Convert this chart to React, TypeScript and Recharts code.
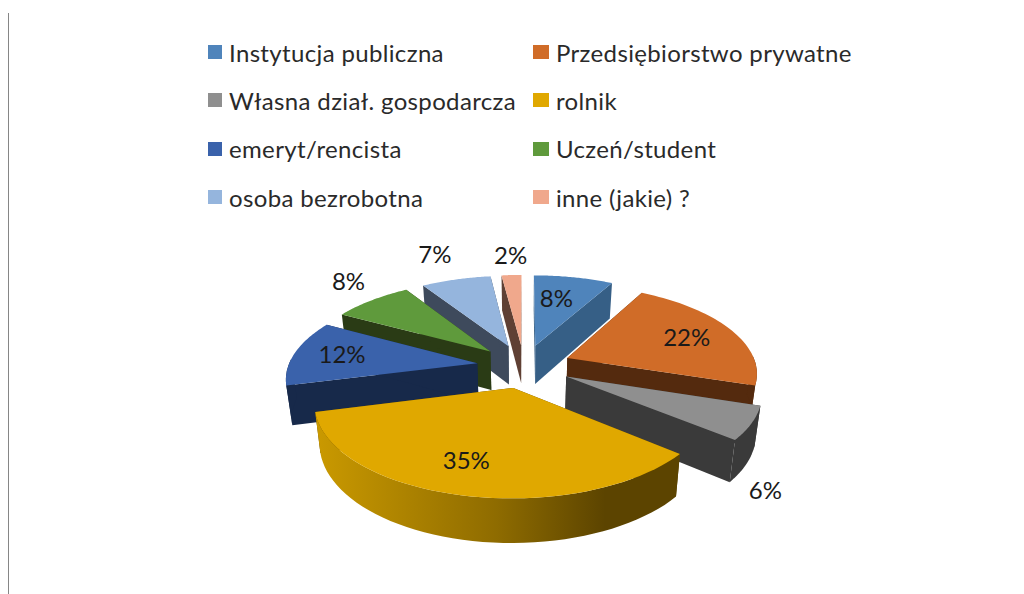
// App.tsx
import React from 'react';
import { PieChart, Pie, Legend } from 'recharts';

const categories = [
  'Instytucja publiczna',
  'Przedsiębiorstwo prywatne',
  'Własna dział. gospodarcza',
  'rolnik',
  'emeryt/rencista',
  'Uczeń/student',
  'osoba bezrobotna',
  'inne (jakie) ?',
];
const shares = [8, 22, 6, 35, 12, 8, 7, 2];
const topColors = ['#4f84bb', '#d06c28', '#8f8f8f', '#e0a800', '#3a62ab', '#5f9a3c', '#95b5dd', '#f0a88c'];
const wallColors = ['#365f86', '#542a0e', '#3a3a3a', '#5c4400', '#17294a', '#2a3b15', '#3e4a5c', '#5f4034'];
// back to front, this is the order the wedges overlap in the picture
const paintOrder = [7, 0, 6, 5, 1, 4, 2, 3];
// label shift from the wedge's own anchor point
const labelNudge = [[-5, -2], [12, -2], [82, 83], [-15, 6], [-16, -3], [-62, -37], [-38, -47], [-4, -43]];

const data = categories.map((name, i) => ({ name, value: shares[i], fill: topColors[i] }));

const FONT = 'Lato, "Open Sans", sans-serif';
const TILT = 87 / 190; // vertical squash of the pie plane
const PERSPECTIVE = 0.15;
const EXPLODE = 0.25;
const HEIGHT = 39;
const BOTTOM_SCALE = 0.975;

type Pt = { x: number; y: number };

// pie plane (unit radius, Y pointing away from the viewer) to screen
const project = (X: number, Y: number, cx: number, cy: number, r: number, bottom = false): Pt => {
  const s = 1 / (1 + PERSPECTIVE * Y);
  const k = bottom ? BOTTOM_SCALE : 1;
  return {
    x: cx + r * X * s * k,
    y: cy - r * TILT * Y * s * k + (bottom ? HEIGHT * s : 0),
  };
};

const toPath = (pts: Pt[]) => pts.map((p, i) => `${i ? 'L' : 'M'}${p.x.toFixed(1)} ${p.y.toFixed(1)}`).join(' ') + ' Z';

const Wedge3D = (props: any) => {
  const { cx, cy, outerRadius: r, startAngle, endAngle, index } = props;
  const a0 = ((90 - startAngle) * Math.PI) / 180;
  const a1 = ((90 - endAngle) * Math.PI) / 180;
  const mid = (a0 + a1) / 2;
  const ox = EXPLODE * Math.sin(mid);
  const oy = EXPLODE * Math.cos(mid);
  const at = (a: number, rad: number, bottom = false) =>
    project(ox + rad * Math.sin(a), oy + rad * Math.cos(a), cx, cy, r, bottom);

  const steps = 48;
  const angles = Array.from({ length: steps + 1 }, (_, i) => a0 + ((a1 - a0) * i) / steps);
  const top = [at(0, 0), ...angles.map((a) => at(a, 1))];
  const frontAngles = angles.filter((a) => Math.cos(a) < 0.05);
  const frontWall = [
    ...frontAngles.map((a) => at(a, 1)),
    ...[...frontAngles].reverse().map((a) => at(a, 1, true)),
  ];
  const sideA = [at(0, 0), at(a0, 1), at(a0, 1, true), at(0, 0, true)];
  const sideB = [at(0, 0), at(a1, 1), at(a1, 1, true), at(0, 0, true)];
  const wall = wallColors[index];
  const isRolnik = index === 3;

  return (
    <g>
      {isRolnik && (
        <defs>
          <linearGradient id="rolnikWall" gradientUnits="userSpaceOnUse" x1={313} y1={0} x2={678} y2={0}>
            <stop offset="0" stopColor="#cb9a00" />
            <stop offset="0.5" stopColor="#8f6c00" />
            <stop offset="0.8" stopColor="#5c4400" />
            <stop offset="1" stopColor="#5c4400" />
          </linearGradient>
        </defs>
      )}
      <path d={toPath(sideA)} fill={wall} />
      <path d={toPath(sideB)} fill={wall} />
      {frontWall.length > 2 && <path d={toPath(frontWall)} fill={isRolnik ? 'url(#rolnikWall)' : wall} />}
      <path d={toPath(top)} fill={topColors[index]} />
    </g>
  );
};

const renderLabel = (props: any) => {
  const { cx, cy, outerRadius: r, midAngle, index, value } = props;
  const a = ((90 - midAngle) * Math.PI) / 180;
  const rad = EXPLODE + 0.65;
  const p = project(rad * Math.sin(a), rad * Math.cos(a), cx, cy, r);
  const [dx, dy] = labelNudge[index];
  return (
    <text
      x={p.x + dx}
      y={p.y + dy}
      textAnchor="middle"
      dominantBaseline="central"
      fontFamily={FONT}
      fontSize={24}
      fill="#1a1a1a"
    >
      {`${value}%`}
    </text>
  );
};

const LegendGrid = () => (
  <div
    style={{
      display: 'grid',
      gridTemplateColumns: '325px 330px',
      gridAutoRows: '48.3px',
      fontFamily: FONT,
      fontSize: 24,
      letterSpacing: 0.35,
      color: '#2a2a2a',
    }}
  >
    {categories.map((name, i) => (
      <div key={name} style={{ display: 'flex', alignItems: 'center', whiteSpace: 'nowrap' }}>
        <span style={{ width: i % 2 ? 16 : 14, height: 14, background: topColors[i], marginRight: 7, flex: 'none' }} />
        {name}
      </div>
    ))}
  </div>
);

const drawNothing = () => <g />;

export default function App() {
  return (
    <div style={{ position: 'absolute', left: 0, top: 0, width: 1024, height: 594, overflow: 'hidden', background: '#fff' }}>
      <div style={{ position: 'absolute', left: 8, top: 13, width: 1, height: 581, background: '#868686' }} />
      <PieChart width={1024} height={594} margin={{ top: 0, right: 0, bottom: 0, left: 0 }}>
        <Legend
          layout="vertical"
          align="right"
          verticalAlign="middle"
          content={<LegendGrid />}
          wrapperStyle={{ left: 208, top: 28, right: 'auto', width: 655 }}
        />
        {paintOrder.map((idx) => {
          const drawOne = (p: any) => (p.index === idx ? <Wedge3D {...p} /> : <g />);
          return (
            <Pie
              key={idx}
              data={data}
              dataKey="value"
              nameKey="name"
              cx={524}
              cy={366}
              outerRadius={189}
              startAngle={90}
              endAngle={-270}
              stroke="none"
              legendType="none"
              shape={drawOne}
              inactiveShape={drawOne}
              isAnimationActive={false}
            />
          );
        })}
        <Pie
          data={data}
          dataKey="value"
          nameKey="name"
          cx={524}
          cy={366}
          outerRadius={189}
          startAngle={90}
          endAngle={-270}
          stroke="none"
          legendType="none"
          shape={drawNothing}
          inactiveShape={drawNothing}
          label={renderLabel}
          labelLine={false}
          isAnimationActive={false}
        />
      </PieChart>
    </div>
  );
}
